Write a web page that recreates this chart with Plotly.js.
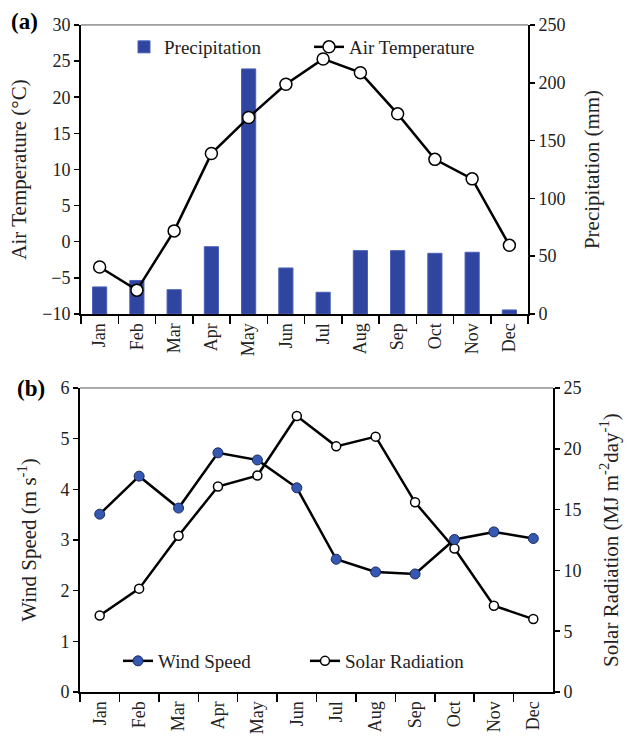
<!DOCTYPE html>
<html>
<head>
<meta charset="utf-8">
<script src="https://cdn.plot.ly/plotly-3.0.1.min.js"></script>
<style>html,body{margin:0;padding:0;background:#fff;}#chart{width:628px;height:743px;}</style>
</head>
<body>
<div id="chart"></div>
<script>
const months = ["Jan","Feb","Mar","Apr","May","Jun","Jul","Aug","Sep","Oct","Nov","Dec"];
const precipitation = [23.4, 29, 21, 58.2, 212, 39.8, 18.8, 54.8, 54.8, 52.5, 53.4, 3.5];
const airTemperature = [-3.5, -6.7, 1.5, 12.2, 17.2, 21.8, 25.3, 23.4, 17.7, 11.4, 8.7, -0.5];
const windSpeed = [3.51, 4.26, 3.63, 4.72, 4.58, 4.03, 2.62, 2.37, 2.33, 3.01, 3.16, 3.03];
const solarRadiation = [6.3, 8.5, 12.85, 16.9, 17.8, 22.7, 20.2, 21.0, 15.6, 11.8, 7.1, 6.0];

const FONT = "Liberation Serif";
const TXT = "#222";

const traces = [
  {type:"bar", name:"Precipitation", x:months, y:precipitation, xaxis:"x", yaxis:"y",
   width:0.38, marker:{color:"#2f45a0", line:{color:"#4a60b8", width:1}}, legend:"legend"},
  {type:"scatter", mode:"lines+markers", name:"Air Temperature", x:months, y:airTemperature,
   xaxis:"x", yaxis:"y2", line:{color:"#000", width:2.5},
   marker:{symbol:"circle", size:12, color:"#fff", line:{color:"#000", width:1.5}}, legend:"legend"},
  {type:"scatter", mode:"lines+markers", name:"Solar Radiation", x:months, y:solarRadiation,
   xaxis:"x2", yaxis:"y3", line:{color:"#000", width:2.5},
   marker:{symbol:"circle", size:9, color:"#fff", line:{color:"#000", width:1.5}}, legend:"legend2"},
  {type:"scatter", mode:"lines+markers", name:"Wind Speed", x:months, y:windSpeed,
   xaxis:"x2", yaxis:"y4", line:{color:"#000", width:2.5},
   marker:{symbol:"circle", size:10, color:"#3558b0", line:{color:"#1a2a60", width:1}}, legend:"legend2"}
];

const tickFont = {family:FONT, size:18, color:TXT};
const titleFont = {family:FONT, size:21, color:TXT};

function xax(domain, anchor){
  return {domain:domain, anchor:anchor, type:"category", range:[-0.5,11.5],
    tickson:"boundaries", ticks:"outside", ticklen:8, tickwidth:1.5, tickcolor:"#000",
    showline:true, linewidth:2, linecolor:"#000", tickangle:-90, tickfont:tickFont,
    showgrid:false, zeroline:false, fixedrange:true};
}
function yax(opts){
  return Object.assign({ticks:"outside", ticklen:5, tickwidth:1.5, tickcolor:"#000",
    showline:true, linewidth:2, linecolor:"#000", tickfont:tickFont, showgrid:false,
    zeroline:false, fixedrange:true}, opts);
}

const layout = {
  width:628, height:743,
  margin:{l:0, r:0, t:0, b:0},
  paper_bgcolor:"#fff", plot_bgcolor:"rgba(0,0,0,0)",
  font:{family:FONT, color:TXT},
  showlegend:true,
  xaxis: xax([0.129, 0.8408], "y"),
  yaxis: yax({domain:[0.5774, 0.9664], anchor:"x", side:"right", range:[0,250], dtick:50,
    title:{text:"Precipitation (mm)", font:titleFont, standoff:20}}),
  yaxis2: yax({overlaying:"y", anchor:"x", side:"left", range:[-10,30], dtick:5,
    title:{text:"Air Temperature (°C)", font:titleFont, standoff:10}}),
  xaxis2: xax([0.1274, 0.8806], "y3"),
  yaxis3: yax({domain:[0.0686, 0.4778], anchor:"x2", side:"right", range:[0,25], dtick:5,
    title:{text:"Solar Radiation (MJ m<sup>-2</sup>day<sup>-1</sup>)", font:titleFont, standoff:23}}),
  yaxis4: yax({overlaying:"y3", anchor:"x2", side:"left", range:[0,6], dtick:1,
    title:{text:"Wind Speed (m s<sup>-1</sup>)", font:titleFont, standoff:18}}),
  legend:{orientation:"h", x:124/628, xanchor:"left", y:1-28/743, yanchor:"top",
    bgcolor:"rgba(0,0,0,0)", font:{family:FONT, size:19, color:TXT},
    entrywidth:140, entrywidthmode:"pixels", traceorder:"normal"},
  legend2:{orientation:"h", x:118/628, xanchor:"left", y:1-642/743, yanchor:"top",
    bgcolor:"rgba(0,0,0,0)", font:{family:FONT, size:19, color:TXT},
    entrywidth:142, entrywidthmode:"pixels", traceorder:"reversed"},
  shapes:[
    {type:"line", xref:"x domain", yref:"y domain", x0:0, x1:1, y0:1, y1:1, line:{color:"#555", width:1}},
    {type:"line", xref:"x2 domain", yref:"y3 domain", x0:0, x1:1, y0:1, y1:1, line:{color:"#555", width:1}}
  ],
  annotations:[
    {text:"<b>(a)</b>", xref:"paper", yref:"paper", x:9/628, y:1-7/743, xanchor:"left", yanchor:"top",
     showarrow:false, font:{family:FONT, size:23, color:"#000"}},
    {text:"<b>(b)</b>", xref:"paper", yref:"paper", x:15/628, y:1-374/743, xanchor:"left", yanchor:"top",
     showarrow:false, font:{family:FONT, size:23, color:"#000"}}
  ]
};

Plotly.newPlot("chart", traces, layout, {staticPlot:true, displayModeBar:false});
</script>
</body>
</html>
